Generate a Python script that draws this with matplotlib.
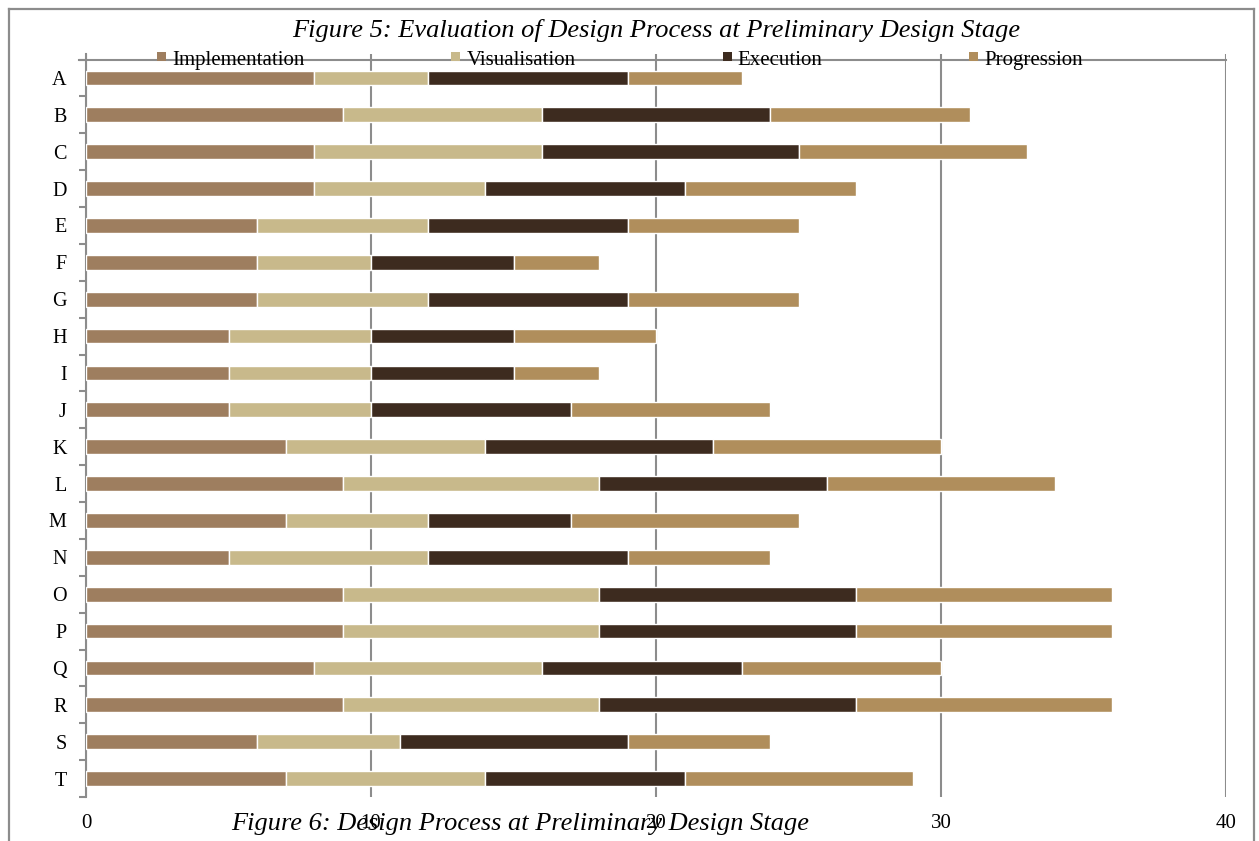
import matplotlib
matplotlib.use("Agg")
import matplotlib.pyplot as plt
import numpy as np
from matplotlib.patches import Rectangle
from matplotlib.lines import Line2D

categories = list("ABCDEFGHIJKLMNOPQRST")
implementation = [8, 9, 8, 8, 6, 6, 6, 5, 5, 5, 7, 9, 7, 5, 9, 9, 8, 9, 6, 7]
visualisation = [4, 7, 8, 6, 6, 4, 6, 5, 5, 5, 7, 9, 5, 7, 9, 9, 8, 9, 5, 7]
execution = [7, 8, 9, 7, 7, 5, 7, 5, 5, 7, 8, 8, 5, 7, 9, 9, 7, 9, 8, 7]
progression = [4, 7, 8, 6, 6, 3, 6, 5, 3, 7, 8, 8, 8, 5, 9, 9, 7, 9, 5, 8]
series_names = ["Implementation", "Visualisation", "Execution", "Progression"]
x_ticks = [0, 10, 20, 30, 40]

colors = ["#9e7e5f", "#c8b98b", "#3d2b1f", "#b08e5c"]
grey = "#8c8c8c"

plt.rcParams["font.family"] = ["Liberation Serif", "DejaVu Serif"]

W, H = 1259, 841
fig = plt.figure(figsize=(W / 100, H / 100), dpi=100)
ax = fig.add_axes([86 / W, 1 - 797 / H, 1140 / W, (797 - 54) / H])

y = np.arange(len(categories))
left = np.zeros(len(categories))
for vals, col, name in zip([implementation, visualisation, execution, progression],
                           colors, series_names):
    ax.barh(y, vals, left=left, height=0.4, color=col, edgecolor="white",
            linewidth=1.0, label=name, zorder=3)
    left += np.array(vals)

ax.set_xlim(0, 40)
ax.set_ylim(len(categories) - 0.5, -0.65)
ax.set_xticks(x_ticks)
ax.set_xticklabels([str(t) for t in x_ticks], fontsize=15)
ax.set_yticks(y)
ax.set_yticklabels(categories, fontsize=14.5)
ax.set_yticks(np.arange(-0.5, len(categories)), minor=True)

ax.tick_params(axis="x", length=0, pad=12)
ax.tick_params(axis="y", which="major", length=0, pad=14)
ax.tick_params(axis="y", which="minor", length=5, width=1.5, color=grey)

ax.grid(axis="x", color=grey, linewidth=1.5, zorder=1)
ax.set_axisbelow(True)
for s in ["top", "right", "bottom"]:
    ax.spines[s].set_visible(False)
ax.spines["left"].set_color(grey)
ax.spines["left"].set_linewidth(1.5)

# horizontal rule along the top category boundary
ax.axhline(-0.5, xmin=-7 / 1140, xmax=1.0, color=grey, linewidth=1.5,
           clip_on=False, zorder=2)

# outer chart frame (open at the bottom edge of the canvas)
frame_pts = [((9, 9), (850, 9)), ((9, 1254), (9, 9)), ((1254, 1254), (9, 850))]
for xs, ys in frame_pts:
    fig.add_artist(Line2D([v / W for v in xs], [1 - v / H for v in ys],
                          color=grey, linewidth=1.6, transform=fig.transFigure))

fig.text(656 / W, 1 - 37 / H,
         "Figure 5: Evaluation of Design Process at Preliminary Design Stage",
         ha="center", va="baseline", fontsize=19, style="italic")
fig.text(520 / W, 1 - 830 / H,
         "Figure 6: Design Process at Preliminary Design Stage",
         ha="center", va="baseline", fontsize=19, style="italic", zorder=5)

# legend row drawn on a shared baseline across the top rule
renderer = fig.canvas.get_renderer()
x_px = 157.0
marker = 9
for name, col in zip(series_names, colors):
    fig.add_artist(Rectangle((x_px / W, 1 - 61 / H), marker / W, marker / H,
                             transform=fig.transFigure, facecolor=col,
                             edgecolor="none", zorder=6))
    t = fig.text((x_px + 15) / W, 1 - 65 / H, name, ha="left", va="baseline",
                 fontsize=15, zorder=6)
    bb = t.get_window_extent(renderer)
    x_px = bb.x1 + 147

fig.savefig("out.png", dpi=100)
